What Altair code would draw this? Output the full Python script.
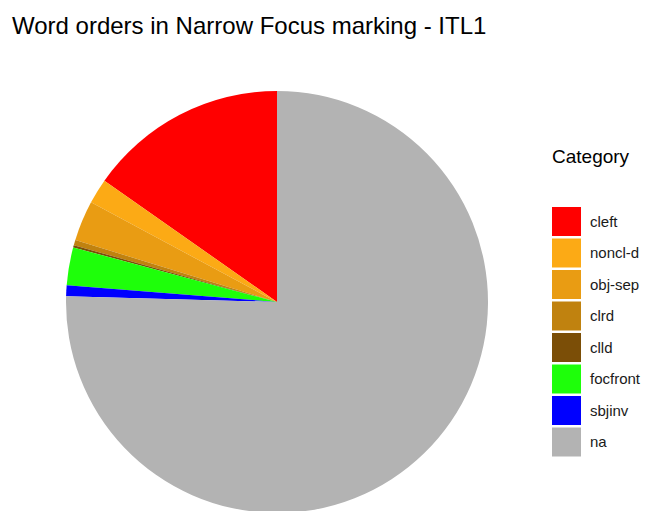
import altair as alt
import pandas as pd

categories = ["cleft", "noncl-d", "obj-sep", "clrd", "clld", "focfront", "sbjinv", "na"]
shares = [15.25, 1.92, 3.08, 0.42, 0.17, 2.89, 0.83, 75.44]
colors = ["#FF0000", "#FCAA15", "#E99C13", "#C0820F", "#7B4E07", "#1EFF0A", "#0000FF", "#B3B3B3"]

df = pd.DataFrame({
    "Category": categories,
    "share": shares,
    "ord": list(range(len(categories)))[::-1],
})

chart = alt.Chart(df).mark_arc(radius=211).encode(
    theta=alt.Theta("share:Q", stack=True),
    order=alt.Order("ord:Q"),
    x=alt.value(265),
    y=alt.value(234),
    color=alt.Color(
        "Category:N",
        scale=alt.Scale(domain=categories, range=colors),
        sort=categories,
        legend=alt.Legend(
            orient="none", legendX=540, legendY=80,
            title="Category", titleFontSize=19, titleFont="Liberation Sans",
            titleFontWeight="normal", titleColor="#000000", titlePadding=40,
            labelFontSize=15, labelFont="Liberation Sans", labelColor="#1a1a1a",
            symbolType="square", symbolSize=841, symbolStrokeWidth=0,
            rowPadding=2.5, labelOffset=9,
        ),
    ),
).properties(
    width=629, height=445,
    autosize=alt.AutoSizeParams(type="none"),
    padding={"left": 4, "top": 60, "right": 0, "bottom": 0},
    title=alt.TitleParams(
        "Word orders in Narrow Focus marking - ITL1",
        anchor="start", fontSize=24, font="Liberation Sans",
        fontWeight="normal", color="#000000", offset=29,
    ),
).configure_view(stroke=None)

chart.save("out.html", embed_options={"renderer": "svg", "actions": False})
